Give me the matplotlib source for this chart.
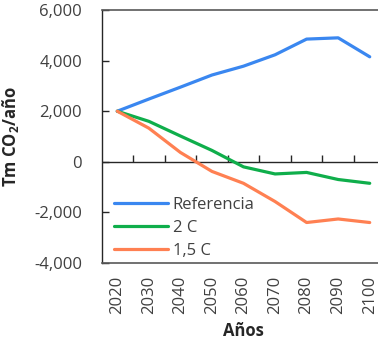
import matplotlib
matplotlib.use("Agg")
from matplotlib import pyplot as plt

plt.rcParams['font.family'] = ['Open Sans', 'DejaVu Sans']
plt.rcParams['mathtext.fontset'] = 'custom'
plt.rcParams['mathtext.rm'] = 'Open Sans'
plt.rcParams['mathtext.bf'] = 'Open Sans:bold'

years = [2020, 2030, 2040, 2050, 2060, 2070, 2080, 2090, 2100]
referencia = [2000, 2480, 2950, 3430, 3780, 4230, 4850, 4900, 4150]
dos_c = [2000, 1600, 1020, 450, -200, -480, -420, -700, -850]
uno_cinco_c = [2000, 1330, 370, -380, -850, -1570, -2400, -2260, -2400]
y_ticks = [-4000, -2000, 0, 2000, 4000, 6000]

text_col = '#404040'
edge_col = '#595959'

fig = plt.figure(figsize=(3.78, 3.43), dpi=100)
# plot area runs past the right edge, as in the cropped original
ax = fig.add_axes([101.5 / 378, 80 / 343, 284 / 378, 253 / 343])

ax.plot(years, referencia, color='#3A87F0', lw=2.3, label='Referencia', solid_capstyle='round')
ax.plot(years, dos_c, color='#0FAE4B', lw=2.3, label='2 C', solid_capstyle='round')
ax.plot(years, uno_cinco_c, color='#FF8052', lw=2.3, label='1,5 C', solid_capstyle='round')

# category axis line at zero with ticks between categories
ax.axhline(0, color='#262626', lw=1.0, zorder=1)
mids = [y + 5 for y in years[:-1]]
ax.vlines(mids, 0, 280, color='#262626', lw=1.0, zorder=1)

ax.set_xlim(2015, 2105)
ax.set_ylim(-4000, 6000)
ax.set_xticks(years)
ax.set_xticklabels([str(y) for y in years], rotation=90, fontsize=12, color=text_col)
ax.tick_params(axis='x', length=0, pad=9)
ax.set_yticks(y_ticks)
ax.set_yticklabels([f'{v:,}' for v in y_ticks], fontsize=12, color=text_col)
ax.tick_params(axis='y', direction='in', length=5, width=1, color='#262626', pad=14)

for side in ['top', 'right', 'bottom']:
    ax.spines[side].set_color(edge_col)
    ax.spines[side].set_linewidth(1.2)
ax.spines['left'].set_color('#262626')
ax.spines['left'].set_linewidth(1.0)

ax.set_xlabel('Años', fontsize=12, fontweight='bold', color='#262626')
ax.xaxis.set_label_coords(0.5, -0.232)
ax.set_ylabel(r'Tm CO$_\mathbf{2}$/año', fontsize=12, fontweight='bold', color='#262626')
ax.yaxis.set_label_coords(-0.283, 0.5)

leg = ax.legend(loc='lower left', bbox_to_anchor=(0.022, -0.009), frameon=False,
                fontsize=12, handlelength=3.2, handletextpad=0.3,
                labelspacing=0.42, borderaxespad=0.0)
for t in leg.get_texts():
    t.set_color(text_col)

fig.savefig('out.png', dpi=100)
